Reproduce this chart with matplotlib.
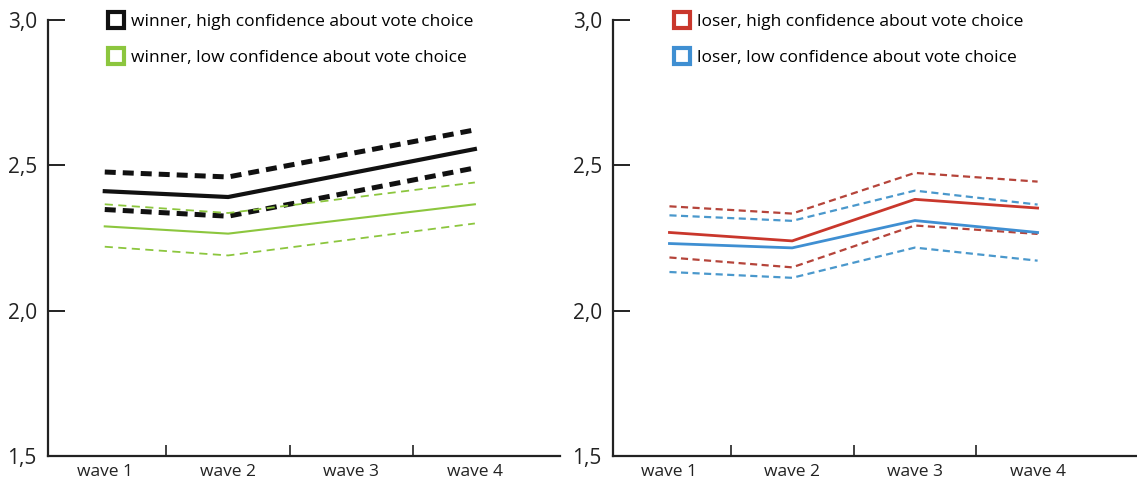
import matplotlib.pyplot as plt
from matplotlib.lines import Line2D

plt.rcParams['font.family'] = ['Open Sans', 'DejaVu Sans']

waves = ['wave 1', 'wave 2', 'wave 3', 'wave 4']

# winners: no wave 3 measurement
win_x = [0, 1, 3]
win_high = [2.411, 2.391, 2.556]
win_high_lo = [2.348, 2.325, 2.491]
win_high_hi = [2.477, 2.460, 2.622]
win_low = [2.290, 2.265, 2.366]
win_low_lo = [2.220, 2.190, 2.300]
win_low_hi = [2.366, 2.336, 2.441]

# losers
los_x = [0, 1, 2, 3]
los_high = [2.269, 2.240, 2.383, 2.353]
los_high_lo = [2.183, 2.149, 2.293, 2.264]
los_high_hi = [2.359, 2.334, 2.474, 2.444]
los_low = [2.231, 2.216, 2.310, 2.269]
los_low_lo = [2.133, 2.113, 2.217, 2.172]
los_low_hi = [2.328, 2.309, 2.413, 2.365]

yticks = [1.5, 2.0, 2.5, 3.0]
ylabels = ['1,5', '2,0', '2,5', '3,0']

black = '#111111'
green = '#8cc63e'
red = '#c9372c'
red_d = '#b5443a'
blue = '#3f8fd2'
blue_d = '#4a98cc'

fig = plt.figure(figsize=(11.37, 4.82), dpi=100)
ax1 = fig.add_axes([48/1137, 1-456/482, 512/1137, 436/482])
ax2 = fig.add_axes([613/1137, 1-456/482, 524/1137, 436/482])


def style_axis(ax, xmax):
    ax.set_xlim(-0.46, xmax)
    ax.set_ylim(1.5, 3.0)
    for s in ['top', 'right']:
        ax.spines[s].set_visible(False)
    for s in ['left', 'bottom']:
        ax.spines[s].set_linewidth(1.6)
        ax.spines[s].set_color('#222222')
    ax.set_yticks(yticks)
    ax.set_yticklabels(ylabels, fontsize=15, color='#222222')
    ax.tick_params(axis='y', direction='in', length=12, width=1.4, pad=8,
                   color='#222222')
    # ticks between waves, labels at waves
    ax.set_xticks([0.5, 1.5, 2.5])
    ax.set_xticklabels([])
    ax.tick_params(axis='x', which='major', direction='in', length=8,
                   width=1.2, color='#222222')
    ax.set_xticks(range(4), minor=True)
    ax.set_xticklabels(waves, minor=True, fontsize=12.5, color='#222222')
    ax.tick_params(axis='x', which='minor', length=0, pad=6)


style_axis(ax1, 3.69)
style_axis(ax2, 3.81)

dash_thick = (0, (2.2, 1.4))
dash_thin = (0, (4.5, 3.0))
dash_col = (0, (3.2, 2.0))

ax1.plot(win_x, win_high_hi, color=black, lw=3.6, ls=dash_thick)
ax1.plot(win_x, win_high_lo, color=black, lw=3.6, ls=dash_thick)
ax1.plot(win_x, win_low_hi, color=green, lw=1.3, ls=dash_thin)
ax1.plot(win_x, win_low_lo, color=green, lw=1.3, ls=dash_thin)
ax1.plot(win_x, win_high, color=black, lw=3.0)
ax1.plot(win_x, win_low, color=green, lw=1.5)

ax2.plot(los_x, los_high_hi, color=red_d, lw=1.6, ls=dash_col)
ax2.plot(los_x, los_high_lo, color=red_d, lw=1.6, ls=dash_col)
ax2.plot(los_x, los_low_hi, color=blue_d, lw=1.6, ls=dash_col)
ax2.plot(los_x, los_low_lo, color=blue_d, lw=1.6, ls=dash_col)
ax2.plot(los_x, los_high, color=red, lw=2.0)
ax2.plot(los_x, los_low, color=blue, lw=2.0)


def square(c):
    return Line2D([], [], ls='none', marker='s', markersize=11,
                  markerfacecolor='white', markeredgecolor=c,
                  markeredgewidth=3)


leg_kw = dict(loc='upper left', bbox_to_anchor=(0.085, 1.05), frameon=False,
              fontsize=12.5, handletextpad=0.35, labelspacing=1.15,
              handlelength=1.0)
ax1.legend([square(black), square(green)],
           ['winner, high confidence about vote choice',
            'winner, low confidence about vote choice'], **leg_kw)
ax2.legend([square(red), square(blue)],
           ['loser, high confidence about vote choice',
            'loser, low confidence about vote choice'], **leg_kw)

fig.savefig('out.png', dpi=100)
